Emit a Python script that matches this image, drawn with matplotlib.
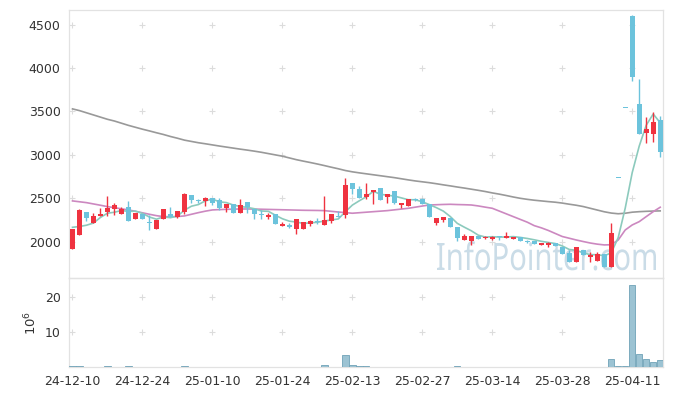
import numpy as np
import pandas as pd
import matplotlib
matplotlib.use("Agg")
import matplotlib.pyplot as plt
from matplotlib.textpath import TextPath
from matplotlib.patches import PathPatch
from matplotlib.font_manager import FontProperties
from matplotlib.transforms import Affine2D

### chart data ###
tick_labels = ["24-12-10", "24-12-24", "25-01-10", "25-01-24", "25-02-13",
               "25-02-27", "25-03-14", "25-03-28", "25-04-11"]

opens = [1916, 2081, 2343, 2220, 2297, 2343, 2374, 2316, 2397, 2258,
         2316, 2231, 2150, 2258, 2320, 2289, 2346, 2539, 2481, 2473,
         2500, 2481, 2393, 2431, 2335, 2454, 2374, 2320, 2285, 2320,
         2185, 2193, 2150, 2150, 2200, 2235, 2196, 2242, 2297, 2308,
         2681, 2608, 2512, 2570, 2616, 2520, 2585, 2427, 2416, 2489,
         2493, 2435, 2220, 2250, 2270, 2166, 2020, 2012, 2066, 2046,
         2035, 2058, 2046, 2031, 2058, 2012, 2008, 1958, 1962, 1981,
         1942, 1866, 1769, 1904, 1827, 1781, 1858, 1712, 2730, 3540,
         4600, 3590, 3250, 3238, 3404]
closes = [2143, 2366, 2273, 2297, 2320, 2385, 2423, 2374, 2242, 2335,
          2258, 2212, 2250, 2374, 2289, 2351, 2550, 2481, 2470, 2504,
          2450, 2393, 2435, 2328, 2423, 2397, 2316, 2305, 2308, 2200,
          2193, 2175, 2258, 2224, 2239, 2222, 2250, 2316, 2285, 2654,
          2604, 2500, 2550, 2597, 2481, 2550, 2450, 2447, 2489, 2481,
          2431, 2289, 2273, 2289, 2166, 2039, 2070, 2066, 2035, 2058,
          2058, 2050, 2070, 2058, 2012, 1997, 1973, 1985, 1990, 1950,
          1858, 1770, 1935, 1846, 1846, 1854, 1712, 2097, 2730, 3540,
          3900, 3238, 3300, 3377, 3038]
highs = [2143, 2380, 2343, 2328, 2385, 2527, 2443, 2404, 2473, 2335,
         2316, 2308, 2250, 2374, 2397, 2351, 2558, 2539, 2493, 2512,
         2500, 2500, 2435, 2431, 2493, 2454, 2374, 2366, 2335, 2320,
         2231, 2212, 2258, 2224, 2250, 2270, 2527, 2316, 2358, 2731,
         2681, 2640, 2674, 2597, 2616, 2550, 2585, 2447, 2489, 2500,
         2500, 2435, 2273, 2289, 2270, 2166, 2085, 2066, 2066, 2070,
         2062, 2066, 2112, 2058, 2058, 2020, 2008, 1990, 2000, 1981,
         1942, 1900, 1935, 1904, 1880, 1885, 1858, 2220, 2730, 3540,
         4610, 3870, 3442, 3493, 3450]
lows = [1916, 2081, 2242, 2220, 2297, 2297, 2308, 2316, 2242, 2258,
        2258, 2135, 2150, 2258, 2289, 2270, 2316, 2443, 2450, 2412,
        2420, 2370, 2346, 2328, 2335, 2328, 2258, 2258, 2258, 2200,
        2185, 2154, 2089, 2150, 2185, 2208, 2196, 2220, 2285, 2270,
        2550, 2500, 2490, 2431, 2481, 2450, 2430, 2385, 2416, 2470,
        2431, 2289, 2193, 2230, 2166, 2012, 2020, 1962, 2035, 2035,
        2020, 2020, 2046, 2031, 2012, 1985, 1973, 1958, 1940, 1950,
        1858, 1770, 1769, 1846, 1770, 1781, 1712, 1712, 2730, 3540,
        3850, 3238, 3138, 3154, 2981]
# closes before the first visible day, needed for the 5-day average
prior_closes = [2321, 2198, 2172, 1996]

ma20 = [2470, 2460, 2450, 2435, 2420, 2404, 2392, 2379, 2366, 2350,
        2333, 2316, 2300, 2289, 2288, 2290, 2297, 2316, 2335, 2352,
        2366, 2370, 2373, 2375, 2377, 2377, 2376, 2374, 2372, 2370,
        2368, 2366, 2364, 2362, 2361, 2360, 2358, 2350, 2342, 2335,
        2328, 2334, 2340, 2346, 2352, 2358, 2367, 2376, 2385, 2398,
        2411, 2423, 2426, 2429, 2431, 2428, 2426, 2423, 2412, 2398,
        2385, 2353, 2321, 2289, 2257, 2225, 2185, 2160, 2130, 2095,
        2060, 2040, 2020, 2002, 1985, 1972, 1963, 1965, 2020, 2135,
        2193, 2231, 2289, 2346, 2397]
ma60 = [3530, 3510, 3485, 3460, 3435, 3410, 3390, 3365, 3340, 3318,
        3296, 3276, 3255, 3235, 3212, 3192, 3170, 3155, 3140, 3128,
        3115, 3102, 3090, 3078, 3066, 3055, 3043, 3030, 3015, 3000,
        2985, 2965, 2945, 2928, 2912, 2895, 2877, 2858, 2840, 2820,
        2805, 2793, 2782, 2771, 2760, 2749, 2738, 2725, 2712, 2700,
        2690, 2680, 2668, 2655, 2643, 2630, 2618, 2605, 2592, 2578,
        2562, 2548, 2532, 2515, 2500, 2488, 2478, 2470, 2462, 2455,
        2445, 2432, 2420, 2405, 2385, 2365, 2345, 2330, 2322, 2328,
        2340, 2346, 2350, 2353, 2355]

# volume in millions of shares
volume = [0.3, 0.3, 0.1, 0.05, 0.05, 0.3, 0.05, 0.05, 0.3, 0.05,
          0.05, 0.05, 0.05, 0.05, 0.05, 0.05, 0.3, 0.05, 0.05, 0.05,
          0.05, 0.05, 0.05, 0.05, 0.05, 0.05, 0.05, 0.05, 0.05, 0.05,
          0.05, 0.05, 0.05, 0.05, 0.05, 0.05, 0.7, 0.05, 0.05, 3.4,
          0.6, 0.35, 0.35, 0.05, 0.05, 0.05, 0.05, 0.05, 0.05, 0.05,
          0.05, 0.05, 0.05, 0.05, 0.05, 0.3, 0.05, 0.05, 0.05, 0.05,
          0.05, 0.05, 0.05, 0.05, 0.05, 0.05, 0.05, 0.05, 0.05, 0.05,
          0.05, 0.05, 0.05, 0.05, 0.05, 0.05, 0.05, 2.3, 0.3, 0.3,
          23.6, 3.6, 2.3, 1.4, 2.0]

### derived series ###
n = len(closes)
idx = np.arange(n)
o = np.array(opens, float)
c = np.array(closes, float)
h = np.array(highs, float)
l = np.array(lows, float)
ma5 = pd.Series(prior_closes + closes).rolling(5).mean().to_numpy()[len(prior_closes):]

RED = "#ef3340"
BLUE = "#6cc3dc"
up = c > o
cols = np.where(up, RED, BLUE)
body_bot = np.minimum(o, c)
body_h = np.maximum(np.abs(c - o), 14)

W, H = 673, 396
plt.rcParams["font.family"] = "DejaVu Sans"
fig = plt.figure(figsize=(W / 100, H / 100), dpi=100)
ax = fig.add_axes([69 / W, 1 - 278 / H, 594 / W, 268 / H])
axv = fig.add_axes([69 / W, 1 - 367 / H, 594 / W, 89 / H], sharex=ax)

# watermark, squeezed to the box it covers in the reference (x 437-656, baseline y 270)
wm_prop = FontProperties(family="Noto Sans", weight="light")
tp = TextPath((0, 0), "InfoPointer.com", size=1, prop=wm_prop)
ext = tp.get_extents()
cap = TextPath((0, 0), "I", size=1, prop=wm_prop).get_extents().y1
sx = 219 / (ext.x1 - ext.x0)
sy = 27 / cap
wm_tr = (Affine2D().translate(-ext.x0, 0).scale(sx, sy).translate(437, H - 270)
         .scale(1 / W, 1 / H) + fig.transFigure)
fig.patches.append(PathPatch(tp, transform=wm_tr, facecolor="#cadce7",
                             edgecolor="none", zorder=-1))

# candles
ax.vlines(idx, l, h, colors=cols, linewidth=1.0, zorder=3)
ax.bar(idx, body_h, bottom=body_bot, width=0.72, color=cols, linewidth=0, zorder=4)

# moving averages
ax.plot(idx, ma60, color="#999999", linewidth=1.2, zorder=2)
ax.plot(idx, ma20, color="#cc88c0", linewidth=1.2, zorder=2)
ax.plot(idx, ma5, color="#8ccabd", linewidth=1.2, zorder=2)

# volume
axv.bar(idx, volume, width=0.9, color="#9cc3d3", edgecolor="#6fa2b7", linewidth=0.6, zorder=3)

ticks_x = idx[::10]
ax.set_xlim(-0.5, 84.4)
ax.set_ylim(1582, 4669)
ax.set_yticks([2000, 2500, 3000, 3500, 4000, 4500])
axv.set_ylim(0, 25.5)
axv.set_yticks([10, 20])
axv.set_xticks(ticks_x)
axv.set_xticklabels(tick_labels)
axv.set_ylabel(r"$\mathregular{10^6}$", fontsize=9.5, color="#333333", labelpad=4)

for a in (ax, axv):
    a.set_facecolor("none")
    a.tick_params(length=0, labelsize=9, colors="#333333", pad=6)
    for s in a.spines.values():
        s.set_color("#e2e2e2")
        s.set_linewidth(0.9)
    # grid drawn as small crosses at tick intersections
    gx, gy = np.meshgrid(ticks_x, a.get_yticks())
    a.scatter(gx.ravel(), gy.ravel(), marker="+", s=14, color="#dcdcdc",
              linewidths=0.8, zorder=1)
ax.tick_params(labelbottom=False)

fig.savefig("out.png", dpi=100)
